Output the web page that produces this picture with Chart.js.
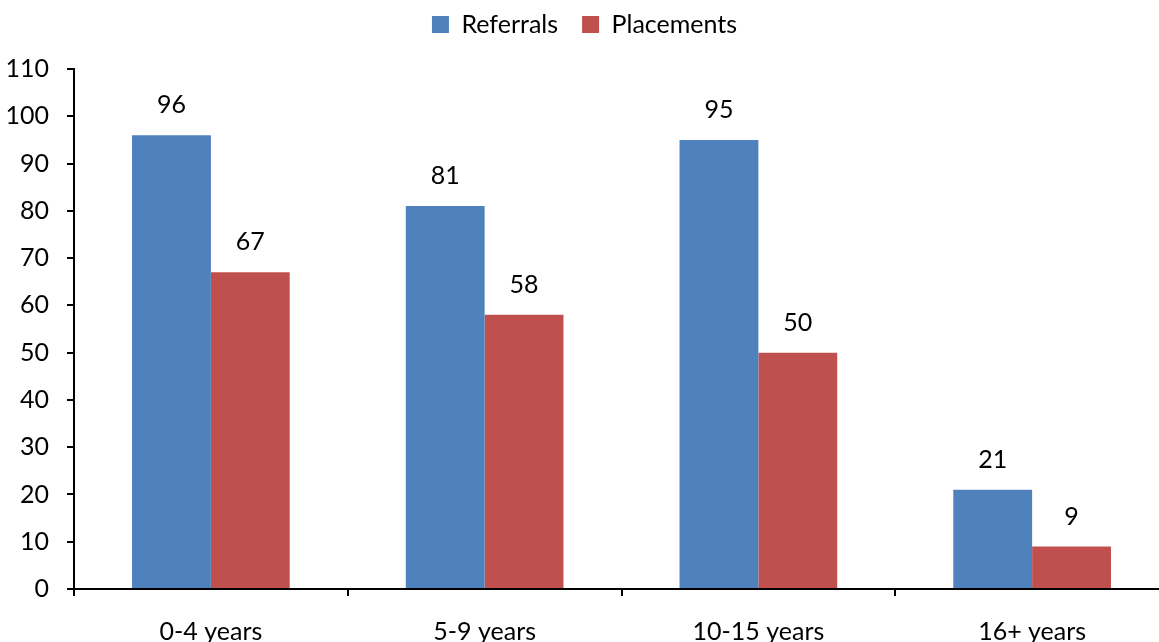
<!DOCTYPE html>
<html>
<head>
<meta charset="utf-8">
<script src="https://cdn.jsdelivr.net/npm/chart.js@4.4.0/dist/chart.umd.min.js"></script>
<style>
    html, body { margin: 0; padding: 0; background: #fff; overflow: hidden; }
    #wrap { position: relative; width: 1169px; height: 642px; }
</style>
</head>
<body>
<div id="wrap"><canvas id="chart"></canvas></div>
<script>
// age bands and counts
const ageGroups = ['0-4 years', '5-9 years', '10-15 years', '16+ years'];
const referrals = [96, 81, 95, 21];
const placements = [67, 58, 50, 9];

const FONT = 'Lato, "Open Sans", sans-serif';
const FONT_SIZE = 25;

// writes the value above each bar
const valueLabels = {
    id: 'valueLabels',
    afterDatasetsDraw(chart) {
        const ctx = chart.ctx;
        ctx.save();
        ctx.font = FONT_SIZE + 'px ' + FONT;
        ctx.fillStyle = '#000';
        ctx.textAlign = 'center';
        ctx.textBaseline = 'middle';
        chart.data.datasets.forEach((ds, i) => {
            chart.getDatasetMeta(i).data.forEach((bar, j) => {
                ctx.fillText(String(ds.data[j]), bar.x, bar.y - 30);
            });
        });
        ctx.restore();
    }
};

// leaves extra room between the legend and the plot
const legendGap = {
    id: 'legendGap',
    beforeInit(chart) {
        const fit = chart.legend.fit;
        chart.legend.fit = function () {
            fit.call(this);
            this.height += 22;
        };
    }
};

new Chart(document.getElementById('chart'), {
    type: 'bar',
    data: {
        labels: ageGroups,
        datasets: [
            { label: 'Referrals', data: referrals, backgroundColor: '#4F81BD' },
            { label: 'Placements', data: placements, backgroundColor: '#C0504D' },
        ],
    },
    options: {
        responsive: true,
        maintainAspectRatio: false,
        animation: false,
        layout: { padding: { top: -12, right: 0, left: 0, bottom: 0 } },
        datasets: {
            bar: { categoryPercentage: 0.576, barPercentage: 1.0 },
        },
        scales: {
            x: {
                grid: {
                    display: true,
                    drawOnChartArea: false,
                    drawTicks: true,
                    tickLength: 7,
                    color: '#000',
                    lineWidth: 2,
                },
                border: { display: true, color: '#000', width: 2 },
                ticks: {
                    color: '#000',
                    font: { family: FONT, size: FONT_SIZE },
                    padding: 21,
                    maxRotation: 0,
                },
                afterFit(scale) { scale.height = 53; },
            },
            y: {
                min: 0,
                max: 110,
                grid: {
                    display: true,
                    drawOnChartArea: false,
                    drawTicks: true,
                    tickLength: 7,
                    color: '#000',
                    lineWidth: 2,
                },
                border: { display: true, color: '#000', width: 2 },
                ticks: {
                    stepSize: 10,
                    color: '#000',
                    font: { family: FONT, size: FONT_SIZE },
                    padding: 18,
                },
                afterFit(scale) { scale.width = 74; },
            },
        },
        plugins: {
            legend: {
                position: 'top',
                labels: {
                    color: '#000',
                    font: { family: FONT, size: FONT_SIZE },
                    boxWidth: 17,
                    boxHeight: 17,
                    padding: 24,
                },
            },
            tooltip: { enabled: false },
        },
    },
    plugins: [valueLabels, legendGap],
});
</script>
</body>
</html>
